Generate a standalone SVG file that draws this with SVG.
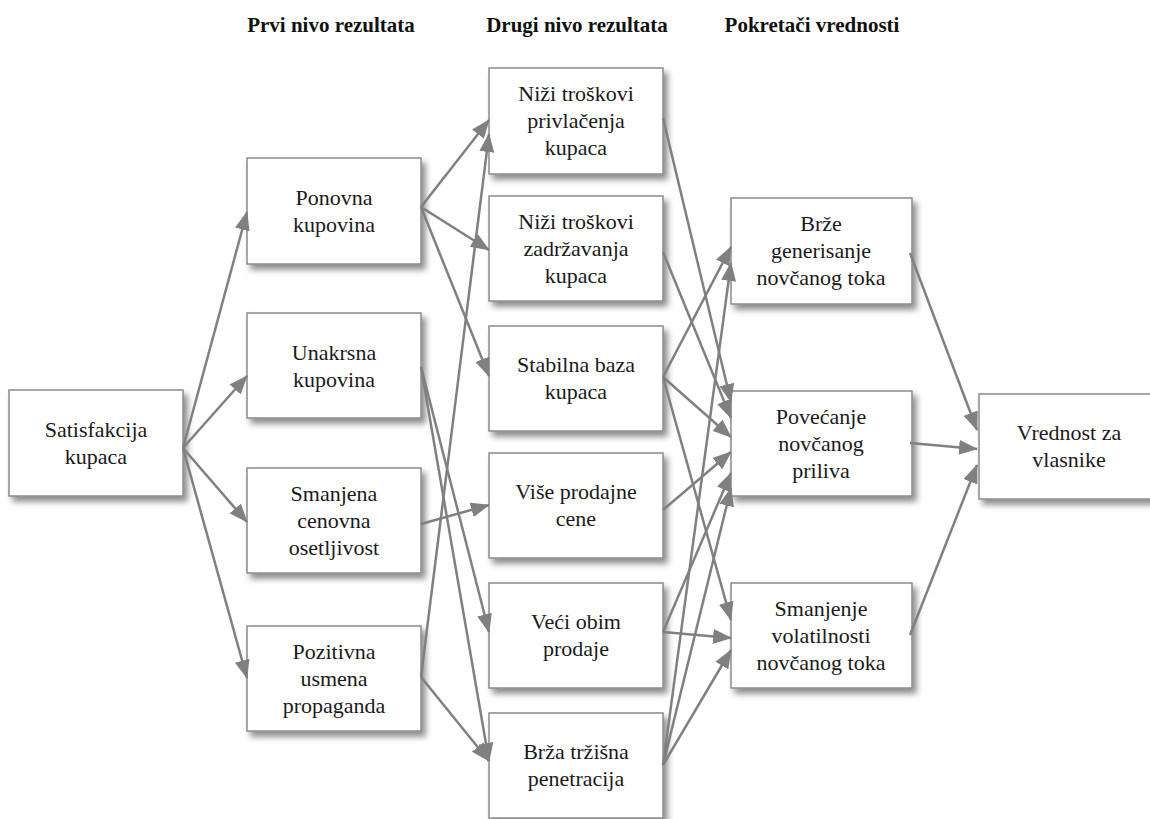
<svg xmlns="http://www.w3.org/2000/svg" width="1150" height="819" viewBox="0 0 1150 819">
<defs>
<filter id="sh" x="-10%" y="-10%" width="130%" height="140%">
<feDropShadow dx="4" dy="5" stdDeviation="3" flood-color="#000" flood-opacity="0.45"/>
</filter>
<marker id="ah" markerUnits="userSpaceOnUse" markerWidth="19" markerHeight="15" viewBox="0 0 19 15" refX="18" refY="7.5" orient="auto">
<path d="M0,0 L19,7.5 L0,15 z" fill="#808080"/>
</marker>
<style>
.box{fill:#fff;stroke:#8a8a8a;stroke-width:1.5;filter:url(#sh)}
.t{font-size:22px;fill:#1a1a1a;text-anchor:middle}
.h{font-size:21px;font-weight:bold;fill:#111;text-anchor:middle}
.c line{stroke:#808080;stroke-width:2.5;marker-end:url(#ah)}
</style>
</defs>
<rect width="1150" height="819" fill="#fff"/>
<g font-family="Liberation Serif, Times New Roman, serif">
<g id="titles">
<text class="h" x="331" y="32">Prvi nivo rezultata</text>
<text class="h" x="577" y="32">Drugi nivo rezultata</text>
<text class="h" x="812" y="32">Pokretači vrednosti</text>
</g>
<g id="sat"><rect class="box" x="9" y="390" width="174" height="106"/><text class="t" x="96" y="437">Satisfakcija</text><text class="t" x="96" y="464">kupaca</text></g>
<g id="pon"><rect class="box" x="247" y="158" width="174" height="106"/><text class="t" x="334" y="205">Ponovna</text><text class="t" x="334" y="232">kupovina</text></g>
<g id="una"><rect class="box" x="247" y="313" width="174" height="105"/><text class="t" x="334" y="360">Unakrsna</text><text class="t" x="334" y="387">kupovina</text></g>
<g id="sma"><rect class="box" x="247" y="468" width="174" height="105"/><text class="t" x="334" y="501">Smanjena</text><text class="t" x="334" y="528">cenovna</text><text class="t" x="334" y="555">osetljivost</text></g>
<g id="poz"><rect class="box" x="247" y="626" width="174" height="105"/><text class="t" x="334" y="659">Pozitivna</text><text class="t" x="334" y="686">usmena</text><text class="t" x="334" y="713">propaganda</text></g>
<g id="n1"><rect class="box" x="489" y="68" width="174" height="106"/><text class="t" x="576" y="101">Niži troškovi</text><text class="t" x="576" y="128">privlačenja</text><text class="t" x="576" y="155">kupaca</text></g>
<g id="n2"><rect class="box" x="489" y="196" width="174" height="105"/><text class="t" x="576" y="229">Niži troškovi</text><text class="t" x="576" y="256">zadržavanja</text><text class="t" x="576" y="283">kupaca</text></g>
<g id="n3"><rect class="box" x="489" y="326" width="174" height="105"/><text class="t" x="576" y="372">Stabilna baza</text><text class="t" x="576" y="399">kupaca</text></g>
<g id="n4"><rect class="box" x="489" y="453" width="174" height="105"/><text class="t" x="576" y="499">Više prodajne</text><text class="t" x="576" y="526">cene</text></g>
<g id="n5"><rect class="box" x="489" y="583" width="174" height="105"/><text class="t" x="576" y="629">Veći obim</text><text class="t" x="576" y="656">prodaje</text></g>
<g id="n6"><rect class="box" x="489" y="713" width="174" height="105"/><text class="t" x="576" y="759">Brža tržišna</text><text class="t" x="576" y="786">penetracija</text></g>
<g id="c1"><rect class="box" x="731" y="198" width="181" height="106"/><text class="t" x="821" y="231">Brže</text><text class="t" x="821" y="258">generisanje</text><text class="t" x="821" y="285">novčanog toka</text></g>
<g id="c2"><rect class="box" x="731" y="391" width="181" height="105"/><text class="t" x="821" y="424">Povećanje</text><text class="t" x="821" y="451">novčanog</text><text class="t" x="821" y="478">priliva</text></g>
<g id="c3"><rect class="box" x="731" y="583" width="181" height="105"/><text class="t" x="821" y="616">Smanjenje</text><text class="t" x="821" y="643">volatilnosti</text><text class="t" x="821" y="670">novčanog toka</text></g>
<g id="val"><rect class="box" x="979" y="394" width="181" height="105"/><text class="t" x="1069" y="440">Vrednost za</text><text class="t" x="1069" y="467">vlasnike</text></g>
</g>
<g id="connectors" class="c">
<line x1="183" y1="448" x2="247" y2="212"/>
<line x1="183" y1="448" x2="247" y2="376"/>
<line x1="183" y1="448" x2="247" y2="522"/>
<line x1="183" y1="448" x2="247" y2="678"/>
<line x1="421" y1="207" x2="489" y2="120"/>
<line x1="421" y1="207" x2="489" y2="250"/>
<line x1="421" y1="207" x2="489" y2="376"/>
<line x1="421" y1="367" x2="489" y2="632"/>
<line x1="421" y1="367" x2="489" y2="761"/>
<line x1="421" y1="524" x2="489" y2="505"/>
<line x1="421" y1="677" x2="489" y2="134"/>
<line x1="421" y1="677" x2="489" y2="761"/>
<line x1="663" y1="118" x2="731" y2="402"/>
<line x1="663" y1="252" x2="731" y2="418"/>
<line x1="663" y1="377" x2="731" y2="247"/>
<line x1="663" y1="377" x2="731" y2="437"/>
<line x1="663" y1="377" x2="731" y2="620"/>
<line x1="663" y1="510" x2="731" y2="452"/>
<line x1="663" y1="632" x2="731" y2="473"/>
<line x1="663" y1="632" x2="731" y2="638"/>
<line x1="663" y1="765" x2="731" y2="263"/>
<line x1="663" y1="765" x2="731" y2="488"/>
<line x1="663" y1="765" x2="731" y2="650"/>
<line x1="910" y1="253" x2="977" y2="430"/>
<line x1="910" y1="443" x2="977" y2="449"/>
<line x1="910" y1="635" x2="977" y2="465"/>
</g>
</svg>
